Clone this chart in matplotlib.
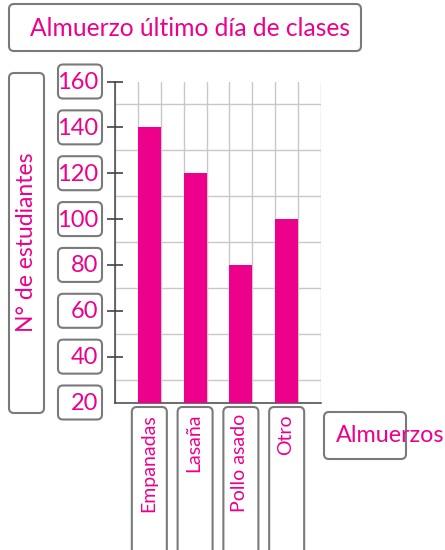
import numpy as np
import matplotlib
matplotlib.use('Agg')
import matplotlib.pyplot as plt
from matplotlib.patches import FancyBboxPatch

plt.rcParams['font.family'] = ['Lato', 'DejaVu Sans']

categorias = ['Empanadas', 'Lasaña', 'Pollo asado', 'Otro']
valores = [140, 120, 80, 100]
ticks_y = [20, 40, 60, 80, 100, 120, 140, 160]
titulo = 'Almuerzo último día de clases'
etiqueta_y = 'N° de estudiantes'
etiqueta_x = 'Almuerzos'

rosa = '#ec008c'
borde = '#7a7a7a'
W, H = 445, 550

fig = plt.figure(figsize=(W / 100, H / 100), dpi=100)

# ejes principales (coordenadas en pixeles del dibujo)
x0, x1, y0, y1 = 115, 321, 402.5, 81.5
ax = fig.add_axes([x0 / W, 1 - y0 / H, (x1 - x0) / W, (y0 - y1) / H])
pos = np.arange(len(categorias)) * 2 + 1.5
ax.bar(pos, valores, width=1.0, color=rosa, zorder=3)
ax.set_xlim(0, 9)
ax.set_ylim(20, 160)

ax.set_xticks(np.arange(0, 10, 1), minor=True)
ax.set_yticks(np.arange(20, 161, 10), minor=True)
ax.grid(which='minor', color='#c8c8c8', linewidth=1.0, zorder=0)
ax.tick_params(which='minor', left=False, bottom=False)
ax.set_xticks([])
ax.set_yticks(ticks_y[1:])
ax.set_yticklabels([])
ax.tick_params(axis='y', direction='inout', length=11, width=1.1, color='#333333')
for s in ['top', 'right']:
    ax.spines[s].set_visible(False)
for s in ['left', 'bottom']:
    ax.spines[s].set_color('#444444')
    ax.spines[s].set_linewidth(1.1)

# capa en pixeles para cajas y textos
ov = fig.add_axes([0, 0, 1, 1], zorder=5)
ov.set_xlim(0, W)
ov.set_ylim(H, 0)
ov.axis('off')
ov.patch.set_alpha(0)


def caja(x, y, w, h):
    ov.add_patch(FancyBboxPatch((x, y), w, h, boxstyle='round,pad=0,rounding_size=5',
                                facecolor='none', edgecolor=borde, linewidth=1.5,
                                clip_on=False))


def px(xd, yd):
    dx, dy = ax.transData.transform((xd, yd))
    return dx, H - dy


# título
caja(9, 4, 352, 47)
ov.text(30, 28, titulo, color=rosa, fontsize=17.7, ha='left', va='center')

# etiqueta eje y
caja(9, 73, 35, 340)
ov.text(27, 242, etiqueta_y, color=rosa, fontsize=16.5, rotation=90,
        ha='center', va='center')

# valores del eje y
for v in ticks_y:
    _, yp = px(0, v)
    caja(58, yp - 17, 44, 34)
    ov.text(98.5, yp + 1, str(v), color=rosa, fontsize=17, ha='right', va='center')

# categorías
for p, c in zip(pos, categorias):
    xp, _ = px(p, 20)
    caja(xp - 17.5, 407, 35, 160)
    ov.text(xp - 1, 414, c, color=rosa, fontsize=14, rotation=90, ha='center', va='top')

# etiqueta eje x
caja(324, 412, 82, 47)
ov.text(336, 436, etiqueta_x, color=rosa, fontsize=16.8, ha='left', va='center')

fig.savefig('out.png', dpi=100)
